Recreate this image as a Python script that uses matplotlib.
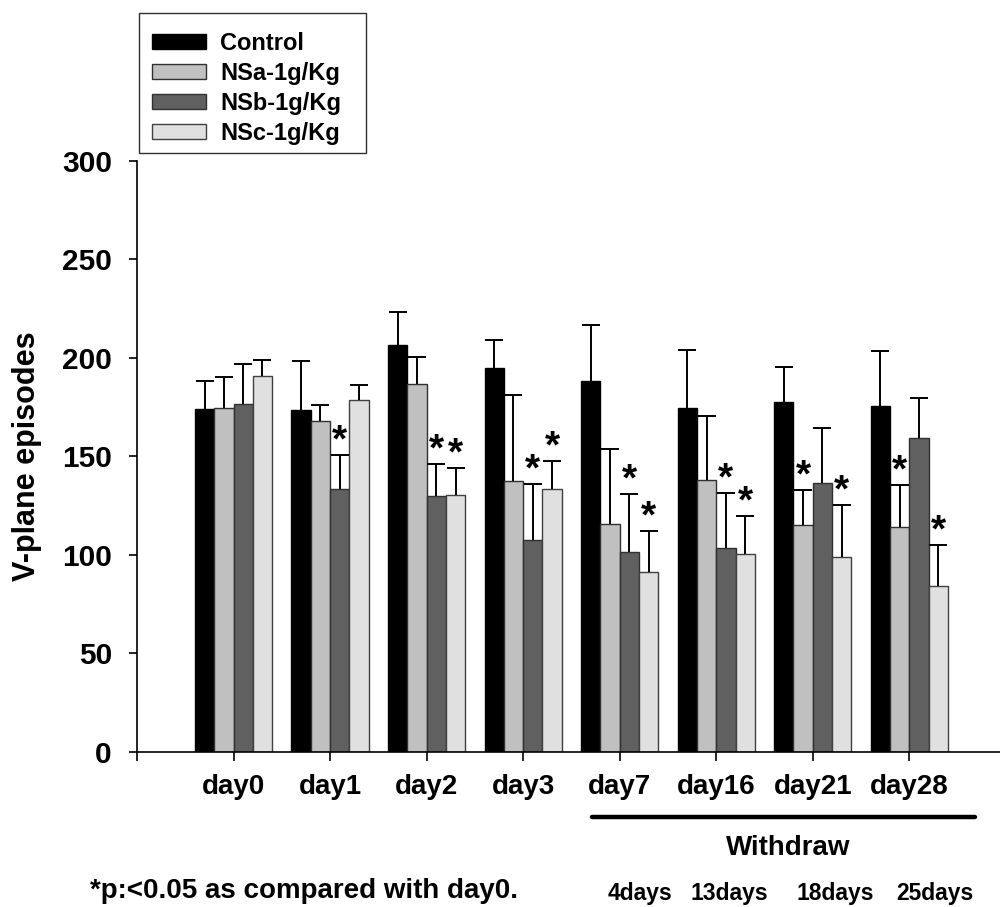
import numpy as np
import matplotlib
matplotlib.use("Agg")
import matplotlib.pyplot as plt
from matplotlib.lines import Line2D
from matplotlib.patches import Rectangle

plt.rcParams['font.family'] = ['Liberation Sans', 'DejaVu Sans']
plt.rcParams['font.weight'] = 'bold'

# ---- data -------------------------------------------------------------
days = ["day0", "day1", "day2", "day3", "day7", "day16", "day21", "day28"]
series = ["Control", "NSa-1g/Kg", "NSb-1g/Kg", "NSc-1g/Kg"]

control = [174.1, 173.8, 206.6, 195.1, 188.3, 174.7, 177.5, 175.6]
control_err = [14.4, 24.8, 16.6, 14.0, 28.5, 29.2, 17.9, 28.1]
nsa = [174.5, 167.9, 186.6, 137.4, 115.7, 138.2, 115.4, 114.4]
nsa_err = [16.0, 8.2, 14.0, 44.0, 37.9, 32.2, 17.8, 21.1]
nsb = [176.8, 133.3, 129.8, 107.8, 101.7, 103.4, 136.5, 159.2]
nsb_err = [20.0, 17.6, 16.4, 28.4, 29.4, 28.2, 27.8, 20.7]
nsc = [190.7, 178.7, 130.6, 133.5, 91.5, 100.3, 98.8, 84.4]
nsc_err = [8.3, 7.6, 13.7, 14.4, 20.5, 19.5, 26.7, 20.9]

# p < 0.05 versus day0
control_sig = [0, 0, 0, 0, 0, 0, 0, 0]
nsa_sig = [0, 0, 0, 0, 0, 0, 1, 1]
nsb_sig = [0, 1, 1, 1, 1, 1, 0, 0]
nsc_sig = [0, 0, 1, 1, 1, 1, 1, 1]

withdraw_days = ["4days", "13days", "18days", "25days"]

yticks = [0, 50, 100, 150, 200, 250, 300]

# ---- style ------------------------------------------------------------
colors = ["#000000", "#c0c0c0", "#606060", "#e0e0e0"]
edges = ["#000000", "#303030", "#303030", "#404040"]

values = [control, nsa, nsb, nsc]
errors = [control_err, nsa_err, nsb_err, nsc_err]
sigs = [control_sig, nsa_sig, nsb_sig, nsc_sig]

fig = plt.figure(figsize=(10, 9.07), dpi=100)
ax = fig.add_axes([0.137, 0.1709, 0.863, 0.6516])

x = np.arange(len(days))
width = 0.2
offsets = [-0.3, -0.1, 0.1, 0.3]

handles = []
for vals, errs, sig, off, col, ec, name in zip(values, errors, sigs, offsets,
                                                 colors, edges, series):
    pos = x + off
    b = ax.bar(pos, vals, width, color=col, edgecolor=ec, linewidth=1.0,
               label=name, zorder=2)
    handles.append(b)
    eb = ax.errorbar(pos, vals, yerr=[np.zeros(len(vals)), errs], fmt='none',
                     ecolor='black', elinewidth=1.4, capsize=6.2,
                     capthick=1.4, zorder=3)
    # only the upper cap is shown
    eb[1][0].set_visible(False)
    for p, v, e, s in zip(pos, vals, errs, sig):
        if s:
            ax.text(p, v + e + 1.8, "*", ha='center', va='baseline',
                    fontsize=28, fontweight='bold', zorder=4)

ax.set_xlim(-1.0, 7.94)
ax.set_ylim(0, 300)
ax.set_yticks(yticks)
ax.set_yticklabels([str(t) for t in yticks])
ax.set_xticks(np.arange(-1, len(days)))
ax.set_xticklabels([""] + days)

for side in ("top", "right"):
    ax.spines[side].set_visible(False)
for side in ("left", "bottom"):
    ax.spines[side].set_linewidth(1.2)

ax.tick_params(axis='y', direction='out', length=6.0, width=1.2, pad=12,
               labelsize=21.5)
ax.tick_params(axis='x', direction='out', length=6.5, width=1.2, pad=9,
               labelsize=20)
for lab in ax.get_xticklabels() + ax.get_yticklabels():
    lab.set_fontweight('bold')

ax.set_ylabel("V-plane episodes", fontsize=22, fontweight='bold')
ax.yaxis.set_label_coords(-0.1097, 0.5)

# legend entries, with a fixed frame drawn around them
leg = fig.legend(handles=handles, labels=series, loc='upper left',
                 bbox_to_anchor=(0.139, 1 - 19 / 907), frameon=False,
                 prop={'size': 17, 'weight': 'bold'}, handlelength=2.3,
                 handleheight=0.6, handletextpad=0.6, labelspacing=0.29,
                 borderpad=0.55, borderaxespad=0.0)
fig.add_artist(Rectangle((0.139, 1 - 153 / 907), 0.227, 140 / 907,
                         transform=fig.transFigure, fill=False,
                         edgecolor='#303030', linewidth=1.0))

# withdrawal period annotation
fig.add_artist(Line2D([0.592, 0.975], [1 - 817 / 907, 1 - 817 / 907],
                      color='black', linewidth=3.2, solid_capstyle='round'))
fig.text(0.788, 1 - 855 / 907, "Withdraw", ha='center', va='baseline',
         fontsize=20, fontweight='bold')
for label, cx in zip(withdraw_days, [0.640, 0.729, 0.835, 0.935]):
    fig.text(cx, 1 - 900 / 907, label, ha='center', va='baseline',
             fontsize=16.5, fontweight='bold')

fig.text(0.09, 1 - 898 / 907, "*p:<0.05 as compared with day0.", ha='left',
         va='baseline', fontsize=20, fontweight='bold')

fig.savefig("out.png", dpi=100)
